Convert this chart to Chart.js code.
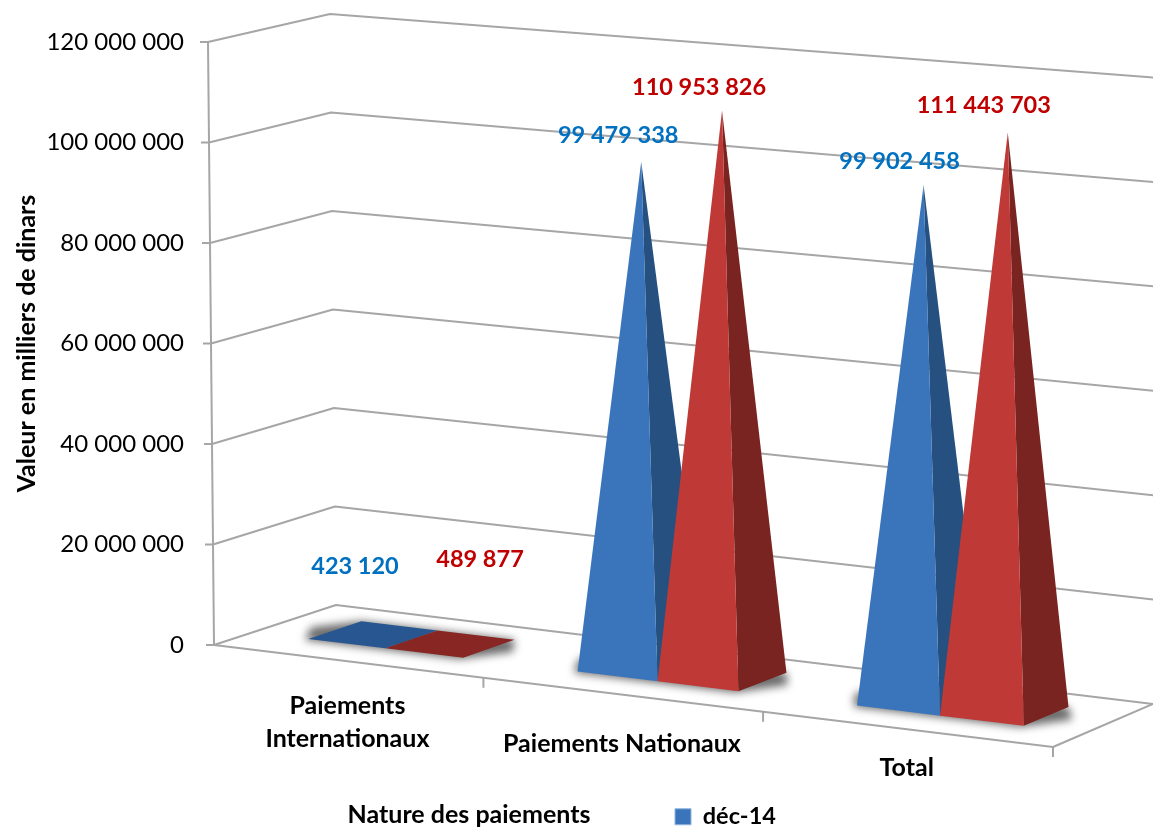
<!DOCTYPE html>
<html lang="fr">
<head>
<meta charset="utf-8">
<title>Nature des paiements</title>
<script src="https://cdn.jsdelivr.net/npm/chart.js@4"></script>
<style>
    html, body { margin: 0; background: #fff; }
    #wrap { width: 1153px; height: 829px; }
</style>
</head>
<body>
<div id="wrap"><canvas id="chart" width="1153" height="829"></canvas></div>
<script>
// Valeurs
const categories = [["Paiements", "Internationaux"], ["Paiements Nationaux"], ["Total"]];
const dec14 = [423120, 99479338, 99902458];
const dec15 = [489877, 110953826, 111443703];
const seriesNames = ["déc-14", "déc-15"];
const yTicks = [0, 20000000, 40000000, 60000000, 80000000, 100000000, 120000000];

const FONT = "Lato, 'Open Sans', sans-serif";
const GRID = "#a6a6a6";
const faceColors = [
    { front: "#3a75bc", side: "#25507f", flat: "#285690" },
    { front: "#bf3a37", side: "#7a2421", flat: "#872623" }
];
const labelColors = ["#0070c0", "#c00000"];
// decalage des etiquettes par rapport au sommet
const labelShift = [
    [[-18, -66], [30, -82]],
    [[-23, -26], [-23, -23]],
    [[-24, -24], [-24, -27]]
];
const categoryDrop = [45, 49, 39];

// coins de la boite 3D (f = avant, b = arriere, B = bas, T = haut, L/R)
const box = {
    fBL: [214, 645], fBR: [1053, 747], bBL: [336, 605], bBR: [1153, 704],
    fTL: [208, 42], fTR: [1058, 119], bTL: [330, 14], bTR: [1158, 78]
};
const baseFront = 0.32, baseBack = 0.76, baseMid = 0.54;

const lerp = (a, b, t) => [a[0] + (b[0] - a[0]) * t, a[1] + (b[1] - a[1]) * t];
const warp = u => u - 0.055 * u * (1 - u);

// u : position sur l'axe x, w : profondeur, v : hauteur (0..1)
function project(u, w, v) {
    const t = warp(u);
    const bottom = lerp(lerp(box.fBL, box.fBR, t), lerp(box.bBL, box.bBR, t), w);
    const top = lerp(lerp(box.fTL, box.fTR, t), lerp(box.bTL, box.bTR, t), w);
    return lerp(bottom, top, v);
}

function poly(ctx, pts, fill) {
    ctx.beginPath();
    pts.forEach((p, i) => i ? ctx.lineTo(p[0], p[1]) : ctx.moveTo(p[0], p[1]));
    ctx.closePath();
    ctx.fillStyle = fill;
    ctx.fill();
}

function line(ctx, pts) {
    ctx.beginPath();
    pts.forEach((p, i) => i ? ctx.lineTo(p[0], p[1]) : ctx.moveTo(p[0], p[1]));
    ctx.stroke();
}

const fmt = n => Math.round(n).toString().replace(/\B(?=(\d{3})+$)/g, " ");

const pyramid3d = {
    id: "pyramid3d",
    afterLayout(chart) {
        // la legende partage la ligne du titre de l'axe x
        chart.legend.left = 668;
        chart.legend.right = 1000;
        chart.legend.top = 798;
        chart.legend.bottom = 829;
    },
    beforeDatasetsDraw(chart) {
        const ctx = chart.ctx;
        const x = chart.scales.x, y = chart.scales.y;
        const heightOf = val => (y.bottom - y.getPixelForValue(val)) / (y.bottom - y.top);
        const uOf = px => (px - x.left) / (x.right - x.left);

        ctx.save();
        ctx.strokeStyle = GRID;
        ctx.lineWidth = 2;
        ctx.lineJoin = "round";

        // grille : mur gauche puis mur du fond
        yTicks.forEach(t => {
            const v = heightOf(t);
            const a = project(0, 0, v);
            line(ctx, [[a[0] - 8, a[1]], a, project(0, 1, v), project(1, 1, v)]);
        });
        // sol et axes
        line(ctx, [project(0, 0, 0), project(0, 0, 1)]);
        line(ctx, [project(0, 0, 0), project(1, 0, 0), project(1, 1, 0)]);
        categories.forEach((c, i) => {
            const p = project((i + 1) / categories.length, 0, 0);
            line(ctx, [p, [p[0], p[1] + 10]]);
        });

        // ombre portee sous chaque groupe
        const first = chart.getDatasetMeta(0).data, second = chart.getDatasetMeta(1).data;
        first.forEach((bar, i) => {
            const u0 = uOf(bar.x - bar.width / 2);
            const u1 = uOf(second[i].x + second[i].width / 2);
            const du = 0.03;
            ctx.save();
            ctx.filter = "blur(4px)";
            poly(ctx, [
                project(u0 - du, baseMid, 0), project(u0, baseFront - 0.03, 0), project(u1, baseFront - 0.03, 0),
                project(u1 + du, baseMid, 0), project(u1, baseBack, 0), project(u0, baseBack, 0)
            ], "rgba(70,70,70,0.8)");
            ctx.restore();
        });

        // pyramides
        chart.data.datasets.forEach((ds, d) => {
            const c = faceColors[d];
            chart.getDatasetMeta(d).data.forEach((bar, i) => {
                const u0 = uOf(bar.x - bar.width / 2), u1 = uOf(bar.x + bar.width / 2);
                const v = heightOf(ds.data[i]);
                const apex = project((u0 + u1) / 2, baseMid, v);
                const fl = project(u0, baseFront, 0), fr = project(u1, baseFront, 0);
                const br = project(u1, baseBack, 0), bl = project(u0, baseBack, 0);
                if (v < 0.02) {
                    poly(ctx, [fl, fr, br, bl], c.flat);
                } else {
                    poly(ctx, [fr, br, apex], c.side);
                    poly(ctx, [fl, fr, apex], c.front);
                }
            });
        });
        ctx.restore();
    },
    afterDatasetsDraw(chart) {
        const ctx = chart.ctx;
        const x = chart.scales.x, y = chart.scales.y;
        const uOf = px => (px - x.left) / (x.right - x.left);

        ctx.save();
        ctx.textAlign = "center";
        ctx.textBaseline = "middle";

        // etiquettes de valeurs
        ctx.font = "bold 23.5px " + FONT;
        chart.data.datasets.forEach((ds, d) => {
            chart.getDatasetMeta(d).data.forEach((bar, i) => {
                const v = (y.bottom - y.getPixelForValue(ds.data[i])) / (y.bottom - y.top);
                const apex = project(uOf(bar.x), baseMid, v);
                ctx.fillStyle = labelColors[d];
                ctx.fillText(fmt(ds.data[i]), apex[0] + labelShift[i][d][0], apex[1] + labelShift[i][d][1]);
            });
        });

        // categories, le long du bord avant du sol
        ctx.font = "bold 25px " + FONT;
        ctx.fillStyle = "#000";
        categories.forEach((lines, i) => {
            const p = project(uOf(x.getPixelForValue(i)), 0, 0);
            lines.forEach((txt, k) => ctx.fillText(txt, p[0], p[1] + categoryDrop[i] + k * 33));
        });

        ctx.fillText("Nature des paiements", 469, 815);
        ctx.restore();
    }
};

new Chart(document.getElementById("chart"), {
    type: "bar",
    data: {
        labels: categories,
        datasets: [
            { label: seriesNames[0], data: dec14, backgroundColor: "transparent" },
            { label: seriesNames[1], data: dec15, backgroundColor: "transparent" }
        ]
    },
    options: {
        responsive: false,
        animation: false,
        categoryPercentage: 0.58,
        barPercentage: 1,
        layout: { padding: { left: 12, top: 42, right: 100, bottom: 0 } },
        plugins: {
            tooltip: { enabled: false },
            legend: {
                position: "bottom",
                align: "start",
                labels: {
                    generateLabels: chart => [{
                        text: seriesNames[0],
                        fillStyle: faceColors[0].front,
                        strokeStyle: "#8fb4dd",
                        lineWidth: 1,
                        datasetIndex: 0
                    }],
                    boxWidth: 16,
                    boxHeight: 16,
                    padding: 7,
                    color: "#000",
                    font: { family: FONT, size: 23.5, weight: "bold" }
                }
            }
        },
        scales: {
            x: {
                grid: { display: false },
                border: { display: false },
                ticks: { display: false },
                afterFit: s => { s.height = 184 - s.chart.legend.height; }
            },
            y: {
                min: 0,
                max: 120000000,
                afterFit: s => { s.width = 202; },
                grid: { display: false },
                border: { display: false },
                afterBuildTicks: s => { s.ticks = yTicks.map(value => ({ value })); },
                ticks: {
                    color: "#000",
                    padding: 22,
                    font: { family: FONT, size: 24 },
                    callback: v => fmt(v)
                },
                title: {
                    display: true,
                    text: "Valeur en milliers de dinars",
                    color: "#000",
                    padding: 0,
                    font: { family: FONT, size: 25, weight: "bold" }
                }
            }
        }
    },
    plugins: [pyramid3d]
});
</script>
</body>
</html>
